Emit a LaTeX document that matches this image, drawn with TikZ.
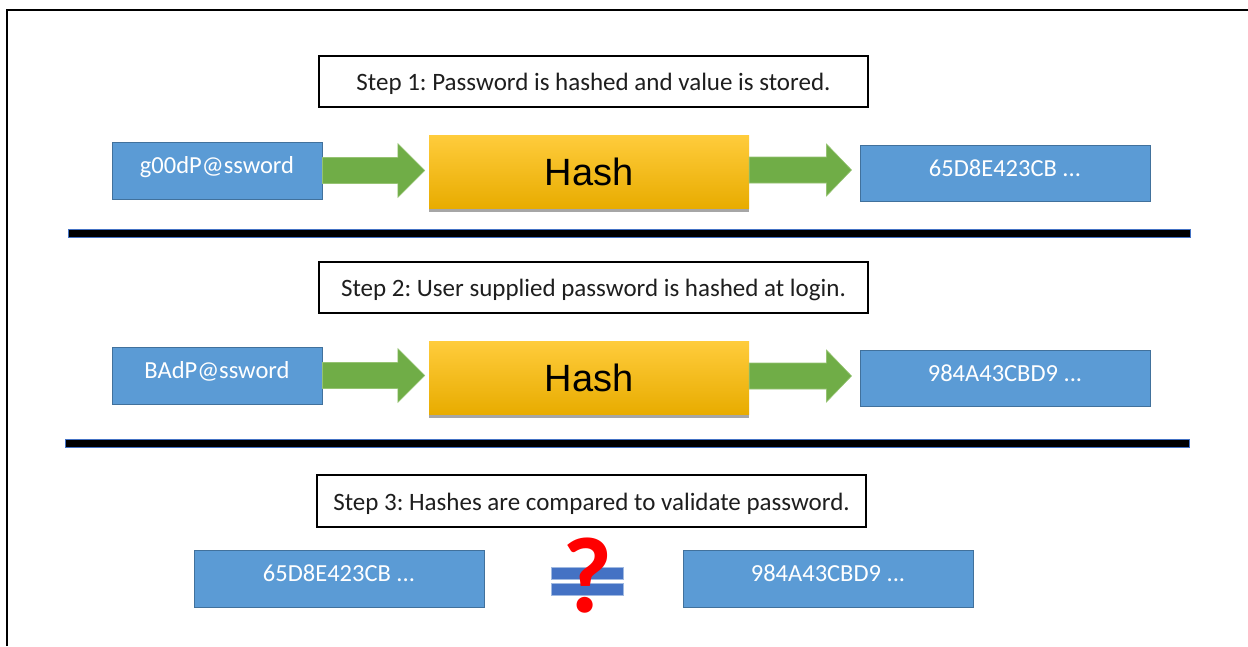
\documentclass[tikz,border=0pt]{standalone}
\usepackage{fontspec}
\setmainfont{Carlito}
\newfontfamily\arialf{Liberation Sans}
\usetikzlibrary{calc,shadows}
\frenchspacing
\definecolor{boxblue}{RGB}{91,155,213}
\definecolor{boxblueedge}{RGB}{65,113,156}
\definecolor{arrgreen}{RGB}{112,173,71}
\definecolor{arrgreenedge}{RGB}{150,195,115}
\definecolor{hashtop}{RGB}{255,204,60}
\definecolor{hashmid}{RGB}{255,192,0}
\definecolor{hashbot}{RGB}{232,172,0}
\definecolor{sepedge}{RGB}{68,114,196}
\definecolor{eqblue}{RGB}{68,114,196}
\definecolor{eqedge}{RGB}{160,185,225}
\definecolor{steptext}{RGB}{30,30,30}
\tikzset{
  stepbox/.style={draw=black, line width=1.4pt, fill=white, minimum width=549pt, minimum height=51pt, inner sep=0pt, text=steptext, font=\fontsize{25}{30}\selectfont, text height=20pt, text depth=2pt},
  valbox/.style={draw=boxblueedge, line width=1pt, fill=boxblue, inner sep=0pt, minimum height=57pt, text=white, font=\fontsize{24.5}{29}\selectfont, text height=14pt, text depth=8pt},
  hashbox/.style={inner sep=0pt, minimum width=320pt, minimum height=73pt, top color=hashtop, middle color=hashmid, bottom color=hashbot, font=\arialf\fontsize{38}{44}\selectfont, text=black, drop shadow={shadow xshift=0pt, shadow yshift=-4pt, fill=black, opacity=0.35}},
  sepbar/.style={draw=sepedge, line width=1pt, fill=black, inner sep=0pt, minimum height=8.5pt},
  garrowstyle/.style={fill=arrgreen, draw=arrgreenedge, line width=0.6pt, line join=miter},
  eqbar/.style={fill=eqblue, draw=eqedge, line width=0.8pt, inner sep=0pt, minimum width=72pt, minimum height=12pt},
  frameline/.style={draw=black, line width=2pt}
}
% #1 start point, #2 tip point, #3 head length, #4 head half height
\newcommand\greenarrow[4]{%
  \draw[garrowstyle] ($(#1)+(0,-13)$) -- ($(#2 |- #1)+(-#3,-13)$) -- ($(#2 |- #1)+(-#3,-#4)$) -- (#2 |- #1) -- ($(#2 |- #1)+(-#3,#4)$) -- ($(#2 |- #1)+(-#3,13)$) -- ($(#1)+(0,13)$) -- cycle;}
\begin{document}
\begin{tikzpicture}[x=1pt, y=-1pt]
\useasboundingbox[fill=white] (0,0) rectangle (1248,646);
\draw[frameline] (7,646) -- (7,10) -- (1248,10);

% Step 1
\node[stepbox] (s1) at (593.5,81.5) {Step 1: Password is hashed and value is stored.};
\node[valbox, minimum width=210pt] (pw1) at (217,170.5) {g00dP@ssword};
\node[hashbox] (hashA) at (589,171.5) {Hash};
\node[valbox, minimum width=290pt, minimum height=56pt] (out1) at (1005,173) {65D8E423CB ...};
\coordinate (tipA) at ($(hashA.west)+(-4,0)$);
\coordinate (tipB) at ($(out1.west)+(-8,0)$);
\coordinate (startB) at ($(hashA.east)+(0,-1.5)$);
\greenarrow{pw1.east}{tipA}{27}{27}
\greenarrow{startB}{tipB}{25}{26}
\node[sepbar, minimum width=1122pt] (sep1) at (629,233.5) {};

% Step 2
\node[stepbox] (s2) at (593.5,287.5) {Step 2: User supplied password is hashed at login.};
\node[valbox, minimum width=210pt] (pw2) at (217,375.5) {BAdP@ssword};
\node[hashbox] (hashB) at (589,377.5) {Hash};
\node[valbox, minimum width=290pt, minimum height=56pt] (out2) at (1005,378) {984A43CBD9 ...};
\coordinate (tipC) at ($(hashB.west)+(-4,0)$);
\coordinate (tipD) at ($(out2.west)+(-8,0)$);
\coordinate (startD) at ($(hashB.east)+(0,-1.5)$);
\greenarrow{pw2.east}{tipC}{27}{27}
\greenarrow{startD}{tipD}{25}{26}
\node[sepbar, minimum width=1124pt] (sep2) at (627,443.5) {};

% Step 3
\node[stepbox, minimum width=549pt, minimum height=52pt] (s3) at (591.5,501) {Step 3: Hashes are compared to validate password.};
\node[valbox, minimum width=290pt] (cmp1) at (339,578.5) {65D8E423CB ...};
\node[valbox, minimum width=290pt] (cmp2) at (828,578.5) {984A43CBD9 ...};
\node[eqbar] (eqtop) at (587,573) {};
\node[eqbar] (eqbot) at (587,589) {};
\node[inner sep=0pt, text=red, font=\bfseries\fontsize{108}{120}\selectfont] (qmark) at (588,576) {?};
\end{tikzpicture}
\end{document}
